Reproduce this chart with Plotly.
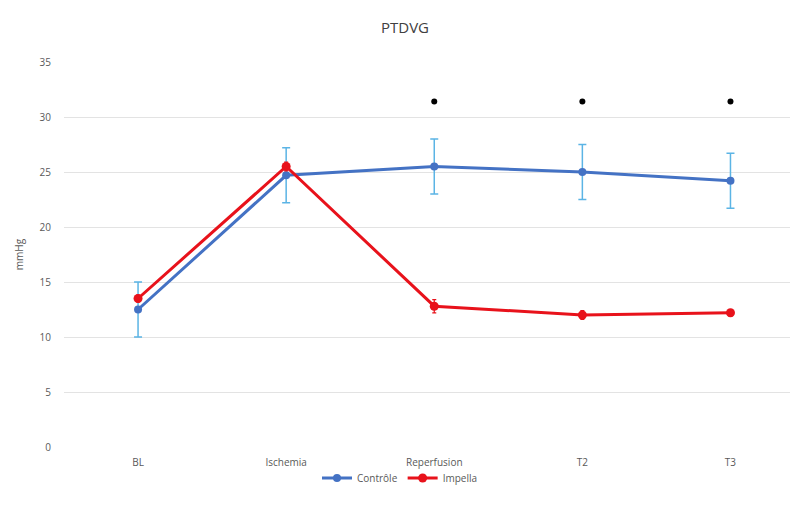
import plotly.graph_objects as go

categories = ["BL", "Ischemia", "Reperfusion", "T2", "T3"]
controle = [12.5, 24.7, 25.5, 25.0, 24.2]
controle_err = [2.5, 2.5, 2.5, 2.5, 2.5]
impella = [13.5, 25.5, 12.8, 12.0, 12.2]
impella_err = [0.3, 0.4, 0.6, 0.4, 0.3]
signif_cats = ["Reperfusion", "T2", "T3"]
signif_y = [31.4, 31.4, 31.4]
y_ticks = [0, 5, 10, 15, 20, 25, 30, 35]

fig = go.Figure()
fig.add_trace(go.Scatter(
    x=categories, y=controle, name="Contrôle", mode="lines+markers",
    line=dict(color="#4472C4", width=3),
    marker=dict(color="#4472C4", size=8),
    error_y=dict(type="data", array=controle_err, color="#5BB4E5", thickness=1.5, width=4),
))
fig.add_trace(go.Scatter(
    x=categories, y=impella, name="Impella", mode="lines+markers",
    line=dict(color="#E8121B", width=3),
    marker=dict(color="#E8121B", size=9),
    error_y=dict(type="data", array=impella_err, color="#E8121B", thickness=1.2, width=2),
))
fig.add_trace(go.Scatter(
    x=signif_cats, y=signif_y, mode="markers", showlegend=False,
    marker=dict(color="black", size=6), hoverinfo="skip",
))

fig.update_layout(
    width=798, height=509,
    margin=dict(l=56, r=0, t=54, b=70),
    paper_bgcolor="white", plot_bgcolor="white",
    font=dict(family="Open Sans, Liberation Sans, sans-serif", color="#595959", size=10),
    title=dict(text="PTDVG", x=397/798, xanchor="center", y=1 - 20/509, yanchor="middle",
               font=dict(size=15, color="#404040")),
    xaxis=dict(type="category", range=[-0.5, 4.51], showgrid=False, showline=False,
               ticks="", ticklabelstandoff=8, tickfont=dict(size=10, color="#595959")),
    yaxis=dict(range=[0, 35], tickvals=y_ticks, showgrid=True, gridcolor="#E3E3E3",
               gridwidth=1, zeroline=False, showline=False, ticks="", ticklabelstandoff=12,
               title=dict(text="mmHg", font=dict(size=10, color="#595959"), standoff=14),
               tickfont=dict(size=10, color="#595959")),
    legend=dict(orientation="h", x=(392 - 56) / 742, xanchor="center",
                y=-31 / 385, yanchor="middle", font=dict(size=10, color="#595959"),
                bgcolor="rgba(0,0,0,0)", itemwidth=30),
    showlegend=True,
)

fig.write_html("out.html")
